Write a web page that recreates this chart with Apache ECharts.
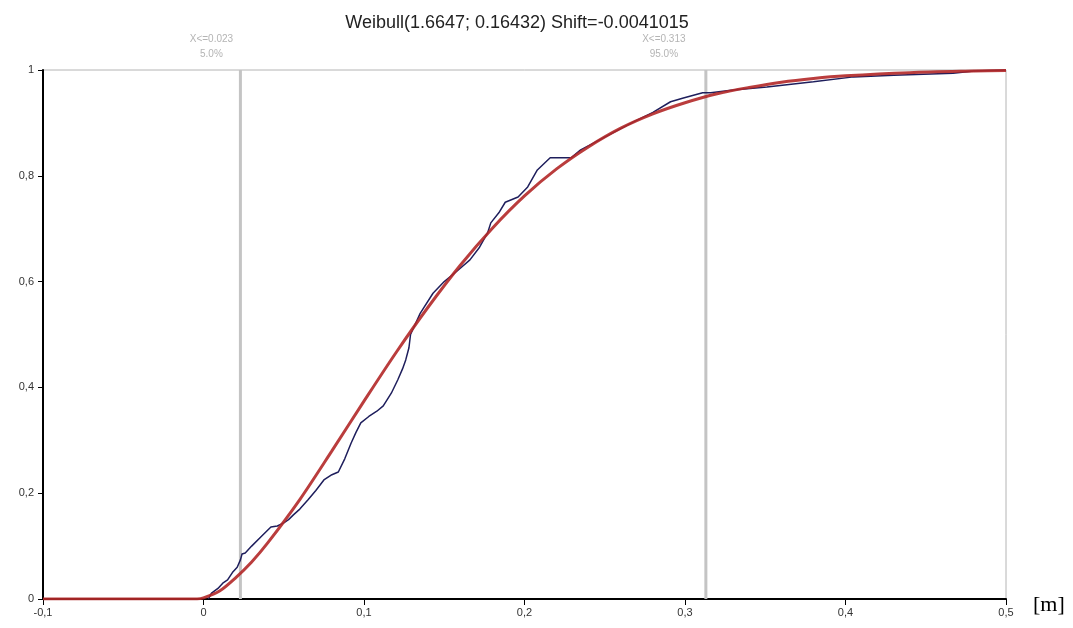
<!DOCTYPE html>
<html>
<head>
<meta charset="utf-8">
<script src="https://cdn.jsdelivr.net/npm/echarts@6/dist/echarts.min.js"></script>
<style>
  html, body { margin: 0; padding: 0; background: #fff; }
  #main { width: 1073px; height: 628px; }
</style>
</head>
<body>
<div id="main"></div>
<script>
// fitted Weibull curve
var fitX = [-0.1, -0.004, 0, 0.01, 0.02, 0.03, 0.04, 0.06, 0.08, 0.1, 0.12, 0.14, 0.16, 0.18, 0.2, 0.22, 0.24, 0.26, 0.28, 0.3, 0.32, 0.34, 0.36, 0.38, 0.4, 0.44, 0.48, 0.5];
var fitY = [0, 0, 0.002, 0.015, 0.04, 0.07, 0.106, 0.188, 0.28, 0.374, 0.466, 0.552, 0.631, 0.701, 0.762, 0.813, 0.855, 0.89, 0.917, 0.938, 0.955, 0.967, 0.977, 0.984, 0.989, 0.995, 0.998, 0.999];

// empirical distribution (stepped line)
var empX = [0.003, 0.005, 0.009, 0.012, 0.015, 0.018, 0.021, 0.023, 0.024, 0.026, 0.03, 0.036, 0.042, 0.046, 0.05, 0.053, 0.056, 0.06, 0.065, 0.07, 0.075, 0.08, 0.084, 0.088, 0.092, 0.095, 0.098, 0.103, 0.108, 0.112, 0.117, 0.121, 0.124, 0.126, 0.128, 0.129, 0.135, 0.143, 0.15, 0.158, 0.166, 0.172, 0.177, 0.179, 0.184, 0.188, 0.196, 0.202, 0.208, 0.216, 0.229, 0.235, 0.245, 0.255, 0.268, 0.28, 0.291, 0.299, 0.311, 0.316, 0.33, 0.351, 0.38, 0.405, 0.43, 0.467, 0.48, 0.5];
var empY = [0, 0.011, 0.02, 0.03, 0.036, 0.05, 0.06, 0.074, 0.085, 0.087, 0.1, 0.118, 0.136, 0.138, 0.144, 0.15, 0.159, 0.17, 0.187, 0.205, 0.225, 0.235, 0.24, 0.265, 0.295, 0.315, 0.333, 0.345, 0.355, 0.365, 0.389, 0.414, 0.435, 0.452, 0.475, 0.5, 0.54, 0.578, 0.6, 0.62, 0.641, 0.665, 0.692, 0.711, 0.73, 0.75, 0.76, 0.779, 0.811, 0.834, 0.834, 0.849, 0.865, 0.881, 0.902, 0.92, 0.94, 0.947, 0.957, 0.957, 0.962, 0.968, 0.978, 0.987, 0.99, 0.994, 0.998, 1];

var xTicks = [-0.1, 0, 0.1, 0.2, 0.3, 0.4, 0.5];
var yTicks = [0, 0.2, 0.4, 0.6, 0.8, 1];

// percentile markers
var markX = [0.023, 0.313];
var markText = ['X<=0.023\n5.0%', 'X<=0.313\n95.0%'];

function pairs(xs, ys) {
    var out = [];
    for (var i = 0; i < xs.length; i++) out.push([xs[i], ys[i]]);
    return out;
}
function comma(v) {
    return String(Math.round(v * 10) / 10).replace('.', ',');
}

var chart = echarts.init(document.getElementById('main'));

var series = markX.map(function (v) {
    return {
        type: 'line',
        data: [[v, 0], [v, 1]],
        showSymbol: false,
        silent: true,
        lineStyle: { color: '#c4c4c4', width: 3 },
        z: 1
    };
});
series.push({
    type: 'line',
    name: 'empirical',
    data: pairs(empX, empY),
    showSymbol: false,
    lineStyle: { color: '#1e1e5c', width: 1.5 },
    z: 3
});
series.push({
    type: 'line',
    name: 'fit',
    data: pairs(fitX, fitY),
    smooth: 0.3,
    showSymbol: false,
    lineStyle: { color: 'rgba(178,40,40,0.9)', width: 3 },
    z: 4
});

var option = {
    animation: false,
    title: {
        text: 'Weibull(1.6647; 0.16432) Shift=-0.0041015',
        left: 512,
        textAlign: 'center',
        top: 9,
        textStyle: { fontFamily: 'Liberation Sans, Arial, sans-serif', fontSize: 18, fontWeight: 'normal', color: '#222' }
    },
    grid: {
        left: 43, right: 67, top: 70, bottom: 29,
        show: true, borderColor: '#b4b4b4', borderWidth: 1
    },
    xAxis: {
        type: 'value',
        min: xTicks[0], max: xTicks[xTicks.length - 1], interval: 0.1,
        axisLine: { onZero: false, lineStyle: { color: '#000', width: 2 } },
        axisTick: { show: true, length: 6, lineStyle: { color: '#000' } },
        axisLabel: { formatter: comma, color: '#333', fontSize: 11, margin: 8, fontFamily: 'Liberation Sans, Arial, sans-serif' },
        splitLine: { show: false }
    },
    yAxis: {
        type: 'value',
        min: yTicks[0], max: yTicks[yTicks.length - 1], interval: 0.2,
        axisLine: { show: true, onZero: false, lineStyle: { color: '#000', width: 2 } },
        axisTick: { show: true, length: 5, lineStyle: { color: '#000' } },
        axisLabel: { formatter: comma, color: '#333', fontSize: 11, margin: 9, fontFamily: 'Liberation Sans, Arial, sans-serif' },
        splitLine: { show: false }
    },
    series: series
};
chart.setOption(option);

var offsets = [-29, -42];
var texts = markX.map(function (v, i) {
    var p = chart.convertToPixel({ gridIndex: 0 }, [v, 1]);
    return {
        type: 'text',
        x: p[0] + offsets[i],
        y: p[1] - 38,
        style: {
            text: markText[i],
            fill: '#b4b4b4',
            font: '10px Liberation Sans, Arial, sans-serif',
            align: 'center',
            lineHeight: 15
        }
    };
});
texts.push({
    type: 'text',
    x: 1033,
    y: 594,
    style: { text: '[m]', fill: '#000', font: '22px Liberation Serif, Times New Roman, serif' }
});
chart.setOption({ graphic: texts });
</script>
</body>
</html>
